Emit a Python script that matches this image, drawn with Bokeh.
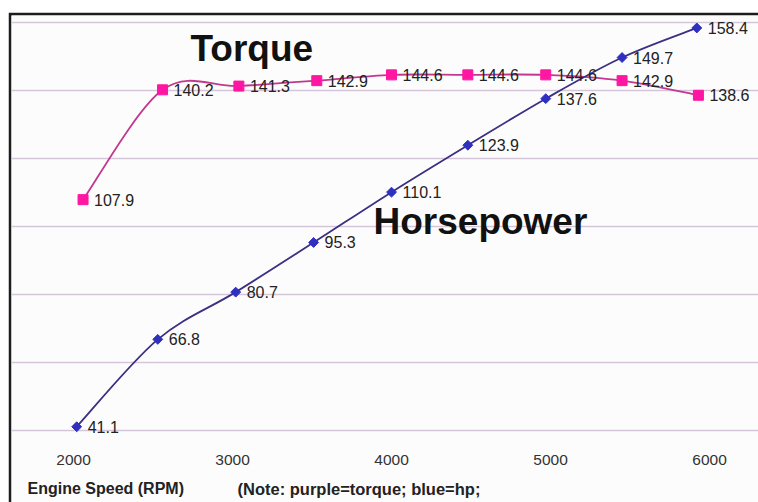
import numpy as np
from bokeh.plotting import figure
from bokeh.models import Grid, FixedTicker, LabelSet, Label, ColumnDataSource, Range1d
from bokeh.embed import file_html
from bokeh.resources import INLINE
from bokeh.core.properties import value

# ---- data ----
hp_rpm = [2020, 2530, 3020, 3510, 4000, 4480, 4970, 5450, 5920]
hp = [41.1, 66.8, 80.7, 95.3, 110.1, 123.9, 137.6, 149.7, 158.4]
tq_rpm = [2060, 2560, 3040, 3530, 4000, 4480, 4970, 5450, 5930]
torque = [107.9, 140.2, 141.3, 142.9, 144.6, 144.6, 144.6, 142.9, 138.6]
x_ticks = [2000, 3000, 4000, 5000, 6000]
x_tick_labels = ["2000", "3000", "4000", "5000", "6000"]
grid_values = [40, 60, 80, 100, 120, 140, 160]

FONT_NAME = "Liberation Sans"
FONT = value(FONT_NAME)

def smooth_segments(xs, ys):
    """Cubic Bezier segments (Catmull-Rom style) like a spreadsheet 'smoothed line'."""
    n = len(xs)
    d = dict(x0=[], y0=[], x1=[], y1=[], cx0=[], cy0=[], cx1=[], cy1=[])
    for i in range(n - 1):
        a = i - 1 if i > 0 else i
        b = i + 2 if i + 2 < n else i + 1
        d["x0"].append(xs[i]); d["y0"].append(ys[i])
        d["x1"].append(xs[i + 1]); d["y1"].append(ys[i + 1])
        d["cx0"].append(xs[i] + (xs[i + 1] - xs[a]) / 6.0)
        d["cy0"].append(ys[i] + (ys[i + 1] - ys[a]) / 6.0)
        d["cx1"].append(xs[i + 1] - (xs[b] - xs[i]) / 6.0)
        d["cy1"].append(ys[i + 1] - (ys[b] - ys[i]) / 6.0)
    return ColumnDataSource(d)

p = figure(width=750, height=490, output_backend="svg", toolbar_location=None,
           x_axis_location=None, y_axis_location=None,
           x_range=Range1d(1610, 6308), y_range=Range1d(18.82, 162.06),
           min_border_left=3, min_border_top=3, min_border_right=0, min_border_bottom=0,
           border_fill_color="#1c1c1c", background_fill_color="#fdfcfd",
           outline_line_color=None)
p.margin = (12, 0, 0, 8)
p.grid.visible = False

grid = Grid(dimension=1, ticker=FixedTicker(ticks=grid_values),
            grid_line_color="#d5c5d8", grid_line_width=1.3)
p.add_layout(grid)

# lines
p.bezier(x0="x0", y0="y0", x1="x1", y1="y1", cx0="cx0", cy0="cy0", cx1="cx1", cy1="cy1",
         source=smooth_segments(tq_rpm, torque), line_color="#c2388f", line_width=1.8)
p.bezier(x0="x0", y0="y0", x1="x1", y1="y1", cx0="cx0", cy0="cy0", cx1="cx1", cy1="cy1",
         source=smooth_segments(hp_rpm, hp), line_color="#3b3182", line_width=1.8)

tq_src = ColumnDataSource(dict(x=tq_rpm, y=torque, t=[f"{v:.1f}" for v in torque]))
hp_src = ColumnDataSource(dict(x=hp_rpm, y=hp, t=[f"{v:.1f}" for v in hp]))

p.scatter("x", "y", source=tq_src, marker="square", size=10,
          fill_color="#ff16a2", line_color="#ff16a2")
p.scatter("x", "y", source=hp_src, marker="square", size=7, angle=np.pi / 4,
          fill_color="#2f2fc0", line_color="#2f2fc0")

for src in (tq_src, hp_src):
    p.text("x", "y", text="t", source=src, x_offset=11, text_baseline="middle",
           text_align="left", text_font=FONT, text_font_size="16px", text_color="#222222")

# x tick labels (positions from tick values, offset in screen px above frame bottom)
tick_src = ColumnDataSource(dict(x=x_ticks, y=[43] * len(x_ticks), t=x_tick_labels))
p.add_layout(LabelSet(x="x", y="y", text="t", source=tick_src, y_units="screen",
                      text_align="center", text_baseline="middle", text_font=FONT,
                      text_font_size="15.5px", text_color="#333333"))

p.add_layout(Label(x=16, y=14, x_units="screen", y_units="screen", text="Engine Speed (RPM)",
                   text_font=FONT_NAME, text_font_size="16px", text_font_style="bold",
                   text_baseline="middle", text_color="#222222"))
p.add_layout(Label(x=226, y=14, x_units="screen", y_units="screen",
                   text="(Note: purple=torque; blue=hp;",
                   text_font=FONT_NAME, text_font_size="16.5px", text_font_style="bold",
                   text_baseline="middle", text_color="#222222"))

p.add_layout(Label(x=179, y=454, x_units="screen", y_units="screen", text="Torque",
                   text_font=FONT_NAME, text_font_size="37px", text_font_style="bold",
                   text_baseline="alphabetic", text_color="#111111"))
p.add_layout(Label(x=362, y=281, x_units="screen", y_units="screen", text="Horsepower",
                   text_font=FONT_NAME, text_font_size="37px", text_font_style="bold",
                   text_baseline="alphabetic", text_color="#111111"))

open("out.html", "w").write(file_html(p, INLINE))
